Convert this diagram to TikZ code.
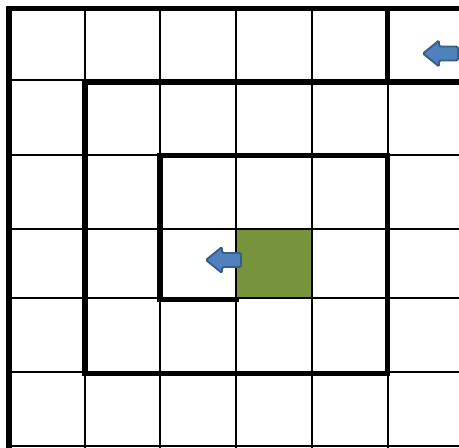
\documentclass[tikz,border=0pt]{standalone}
\usepackage{tikz}
\definecolor{olivecell}{RGB}{119,147,60}
\definecolor{arrowfill}{RGB}{79,129,189}
\definecolor{arrowline}{RGB}{56,93,138}

\begin{document}
\begin{tikzpicture}[
  x=0.02cm, y=-0.02cm,
  gridline/.style={line width=1.4pt, black},
  wall/.style={line width=3.1pt, black, line cap=rect},
  goal/.style={fill=olivecell},
  leftarrow/.pic={
    \draw[fill=arrowfill, draw=arrowline, line width=1.1pt, rounded corners=0.8pt]
      (0,0) -- (16,-13) -- (16,-7) -- (35,-7) -- (35,7) -- (16,7) -- (16,13) -- cycle;
  }
]
\useasboundingbox (0,0) rectangle (459,448);

%% -- goal cell --
\fill[goal] (236,229) rectangle (312,298);

%% -- thin grid --
\foreach \gx in {85,160,236,312,388}
  \draw[gridline] (\gx,8) -- (\gx,448);
\foreach \gy in {80,155,229,298,372,446}
  \draw[gridline] (9,\gy) -- (459,\gy);

%% -- walls --
\draw[wall] (459,8.5) -- (9,8.5) -- (9,452);
\draw[wall] (387.5,8.5) -- (387.5,82.5);
\draw[wall] (459,82.5) -- (85,82.5) -- (85,373.5) -- (387.5,373.5)
  -- (387.5,155.5) -- (160,155.5) -- (160,299.5) -- (236,299.5);

%% -- arrows --
\pic at (423,53.5) {leftarrow};
\pic at (206,260) {leftarrow};

\end{tikzpicture}
\end{document}
